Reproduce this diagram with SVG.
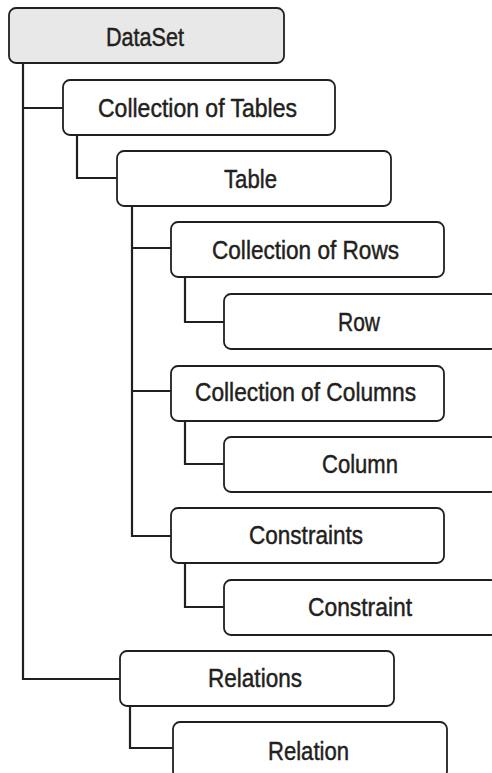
<svg xmlns="http://www.w3.org/2000/svg" width="492" height="773" viewBox="0 0 492 773">
<style>
.box{fill:#fff;stroke:#231f20;stroke-width:1.8}
.root{fill:#e8e8e8}
.lbl{font-family:"Liberation Sans",Arial,sans-serif;font-size:25px;fill:#231f20;stroke:#231f20;stroke-width:0.45}
.con{fill:none;stroke:#231f20;stroke-width:2.2}
</style>
<rect width="492" height="773" fill="#fff"/>
<g id="connectors">
<path class="con" d="M23,63 V679 H120"/>
<path class="con" d="M23,108 H63"/>
<path class="con" d="M77,135 V178 H117"/>
<path class="con" d="M132,206 V536 H171"/>
<path class="con" d="M132,248 H171"/>
<path class="con" d="M132,391 H171"/>
<path class="con" d="M185,277 V322 H224"/>
<path class="con" d="M185,421 V464 H224"/>
<path class="con" d="M185,563 V607 H224"/>
<path class="con" d="M130,706 V748 H173"/>
</g>
<g id="dataset"><rect class="box root" x="9" y="8" width="275" height="55" rx="7"/><text class="lbl" x="106" y="46" textLength="78" lengthAdjust="spacingAndGlyphs">DataSet</text></g>
<g id="tables"><rect class="box" x="63" y="80" width="272" height="55" rx="7"/><text class="lbl" x="98" y="117" textLength="199" lengthAdjust="spacingAndGlyphs">Collection of Tables</text></g>
<g id="table"><rect class="box" x="117" y="151" width="274" height="55" rx="7"/><text class="lbl" x="224" y="188" textLength="53" lengthAdjust="spacingAndGlyphs">Table</text></g>
<g id="rows"><rect class="box" x="171" y="222" width="273" height="55" rx="7"/><text class="lbl" x="212" y="259" textLength="187" lengthAdjust="spacingAndGlyphs">Collection of Rows</text></g>
<g id="row"><rect class="box" x="224" y="294" width="274" height="55" rx="7"/><text class="lbl" x="338" y="331" textLength="42" lengthAdjust="spacingAndGlyphs">Row</text></g>
<g id="columns"><rect class="box" x="171" y="366" width="273" height="55" rx="7"/><text class="lbl" x="195" y="401" textLength="221" lengthAdjust="spacingAndGlyphs">Collection of Columns</text></g>
<g id="column"><rect class="box" x="224" y="437" width="274" height="55" rx="7"/><text class="lbl" x="322" y="473" textLength="76" lengthAdjust="spacingAndGlyphs">Column</text></g>
<g id="constraints"><rect class="box" x="171" y="508" width="273" height="55" rx="7"/><text class="lbl" x="249" y="544" textLength="114" lengthAdjust="spacingAndGlyphs">Constraints</text></g>
<g id="constraint"><rect class="box" x="224" y="580" width="274" height="55" rx="7"/><text class="lbl" x="308" y="616" textLength="104" lengthAdjust="spacingAndGlyphs">Constraint</text></g>
<g id="relations"><rect class="box" x="120" y="651" width="274" height="55" rx="7"/><text class="lbl" x="208" y="687" textLength="94" lengthAdjust="spacingAndGlyphs">Relations</text></g>
<g id="relation"><rect class="box" x="173" y="722" width="274" height="56" rx="7"/><text class="lbl" x="268" y="760" textLength="81" lengthAdjust="spacingAndGlyphs">Relation</text></g>
</svg>
